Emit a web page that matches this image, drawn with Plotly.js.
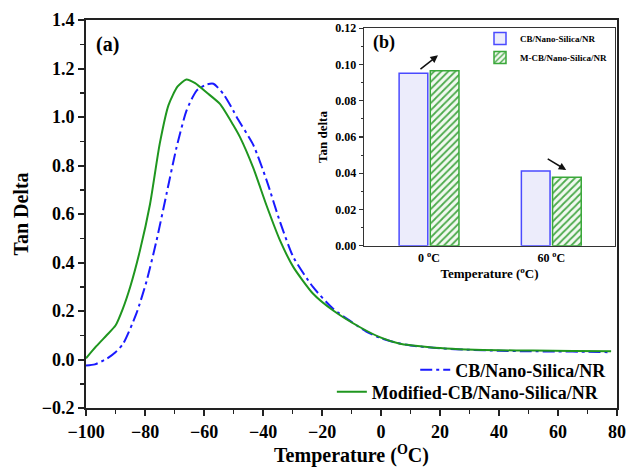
<!DOCTYPE html>
<html>
<head>
<meta charset="utf-8">
<script src="https://cdn.plot.ly/plotly-3.0.1.min.js"></script>
<style>html,body{margin:0;padding:0;background:#fff;}#chart{width:626px;height:468px;}</style>
</head>
<body>
<div id="chart"></div>
<script>
// Main panel (a): Tan delta vs temperature
const tempCB = [-100, -97, -93, -90, -87.4, -82.9, -79.4, -76.1, -72.7, -69.3, -65.9, -62.5, -59.1, -56.8, -53.5, -50.1, -48.9, -43.3, -38.8, -34.3, -29.7, -23, -16.2, -10, -5, 0, 5, 10, 20, 30, 40, 50, 60, 70, 78];
const tanCB  = [-0.025, -0.02, 0.003, 0.03, 0.065, 0.19, 0.326, 0.49, 0.683, 0.875, 1.027, 1.109, 1.134, 1.137, 1.096, 1.027, 0.999, 0.885, 0.74, 0.57, 0.422, 0.298, 0.209, 0.155, 0.115, 0.088, 0.07, 0.058, 0.046, 0.04, 0.036, 0.034, 0.033, 0.032, 0.03];
const tempMod = [-100, -96.5, -93, -90, -87.5, -85, -81.7, -78.3, -75, -72, -69, -66, -63, -59, -54.6, -50, -47.8, -43.3, -38.8, -34.2, -29.7, -23, -16.2, -7.1, 0, 6.4, 10.8, 20, 29, 40, 51.5, 65, 78];
const tanMod  = [0.005, 0.055, 0.1, 0.14, 0.21, 0.30, 0.45, 0.64, 0.89, 1.05, 1.125, 1.155, 1.14, 1.10, 1.054, 0.965, 0.917, 0.79, 0.635, 0.49, 0.381, 0.271, 0.202, 0.133, 0.09, 0.065, 0.058, 0.047, 0.041, 0.038, 0.037, 0.035, 0.034];

// Inset panel (b)
const insetCats = ['0 <sup>o</sup>C', '60 <sup>o</sup>C'];
const insetCB  = [0.0952, 0.0413];
const insetMod = [0.0965, 0.0378];

const serif = 'Liberation Serif, Times New Roman, serif';
const bold = (s, c) => ({family: serif, size: s, color: c || '#000', weight: 'bold'});

const traces = [
  {x: tempCB, y: tanCB, type: 'scatter', mode: 'lines', name: 'CB/Nano-Silica/NR', showlegend: true,
   line: {color: '#1a1aff', width: 2, dash: '12px,4px,3px,4px', shape: 'spline', smoothing: 0.6},
   xaxis: 'x', yaxis: 'y', legend: 'legend'},
  {x: tempMod, y: tanMod, type: 'scatter', mode: 'lines', name: 'Modified-CB/Nano-Silica/NR', showlegend: true,
   line: {color: '#1f961f', width: 2, shape: 'spline', smoothing: 0.6},
   xaxis: 'x', yaxis: 'y', legend: 'legend2'},
  {x: insetCats, y: insetCB, type: 'bar', name: 'CB/Nano-Silica/NR', showlegend: true,
   marker: {color: '#ececfb', line: {color: '#4a4aff', width: 1.5}},
   xaxis: 'x2', yaxis: 'y2', legend: 'legend3'},
  {x: insetCats, y: insetMod, type: 'bar', name: 'M-CB/Nano-Silica/NR', showlegend: true,
   marker: {color: '#f2f9f0', line: {color: '#3aa83a', width: 1.5},
            pattern: {shape: '/', fgcolor: '#4caa4c', bgcolor: '#f2f9f0', size: 5, solidity: 0.35}},
   xaxis: 'x2', yaxis: 'y2', legend: 'legend3'}
];

const layout = {
  width: 626, height: 468,
  margin: {l: 86, r: 9, t: 20, b: 60},
  paper_bgcolor: '#fff', plot_bgcolor: '#fff',
  showlegend: true,
  barmode: 'group', bargap: 0.49, bargroupgap: 0.08,
  xaxis: {
    domain: [0, 1], range: [-100, 80], dtick: 20, tick0: 0,
    showgrid: false, zeroline: false,
    showline: true, linecolor: '#222', linewidth: 2, mirror: true,
    ticks: 'outside', ticklen: 6, tickwidth: 2, tickcolor: '#222',
    minor: {ticks: 'outside', dtick: 10, ticklen: 4, tickwidth: 1.5, tickcolor: '#222'},
    tickfont: bold(18),
    title: {text: 'Temperature (<sup>O</sup>C)', font: bold(20), standoff: 6}
  },
  yaxis: {
    domain: [0, 1], range: [-0.2, 1.4], dtick: 0.2, tick0: 0, tickformat: '.1f',
    showgrid: false, zeroline: false,
    showline: true, linecolor: '#222', linewidth: 2, mirror: true,
    ticks: 'outside', ticklen: 6, tickwidth: 2, tickcolor: '#222',
    minor: {ticks: 'outside', dtick: 0.1, ticklen: 4, tickwidth: 1.5, tickcolor: '#222'},
    tickfont: bold(18),
    title: {text: 'Tan Delta', font: bold(20), standoff: 8}
  },
  xaxis2: {
    domain: [0.524, 0.996], anchor: 'y2', type: 'category', range: [-0.53, 1.52],
    showgrid: false, zeroline: false,
    showline: true, linecolor: '#333', linewidth: 1.5, mirror: true,
    ticks: '', tickfont: bold(12),
    title: {text: 'Temperature (<sup>o</sup>C)', font: bold(13), standoff: 2}
  },
  yaxis2: {
    domain: [0.418, 0.979], anchor: 'x2', range: [0, 0.12], dtick: 0.02, tickformat: '.2f',
    showgrid: false, zeroline: false,
    showline: true, linecolor: '#333', linewidth: 1.5, mirror: true,
    ticks: 'outside', ticklen: 4, tickwidth: 1.2, tickcolor: '#333',
    minor: {ticks: 'outside', dtick: 0.01, ticklen: 2, tickwidth: 1, tickcolor: '#333'},
    tickfont: bold(12),
    title: {text: 'Tan delta', font: bold(13), standoff: 5}
  },
  legend: {x: 0.62, y: 0.098, xanchor: 'left', yanchor: 'middle', bgcolor: 'rgba(0,0,0,0)', font: bold(18), visible: true},
  legend2: {x: 0.463, y: 0.041, xanchor: 'left', yanchor: 'middle', bgcolor: 'rgba(0,0,0,0)', font: bold(18), visible: true},
  legend3: {x: 0.742, y: 0.99, xanchor: 'left', yanchor: 'top', bgcolor: 'rgba(0,0,0,0)', font: bold(9), tracegroupgap: 0, visible: true},
  annotations: [
    {text: '(a)', xref: 'paper', yref: 'paper', x: 0.041, y: 0.936, xanchor: 'center', yanchor: 'middle', showarrow: false, font: bold(20)},
    {text: '(b)', xref: 'paper', yref: 'paper', x: 0.561, y: 0.941, xanchor: 'center', yanchor: 'middle', showarrow: false, font: bold(18)},
    {text: '', xref: 'x2', yref: 'y2', x: 0.073, y: 0.105, ax: -19, ay: 15, showarrow: true,
     arrowhead: 2, arrowsize: 1, arrowwidth: 1.5, arrowcolor: '#111'},
    {text: '', xref: 'x2', yref: 'y2', x: 1.122, y: 0.0418, ax: -20, ay: -12, showarrow: true,
     arrowhead: 2, arrowsize: 1, arrowwidth: 1.5, arrowcolor: '#111'}
  ]
};

Plotly.newPlot('chart', traces, layout, {staticPlot: true, displayModeBar: false});
</script>
</body>
</html>
